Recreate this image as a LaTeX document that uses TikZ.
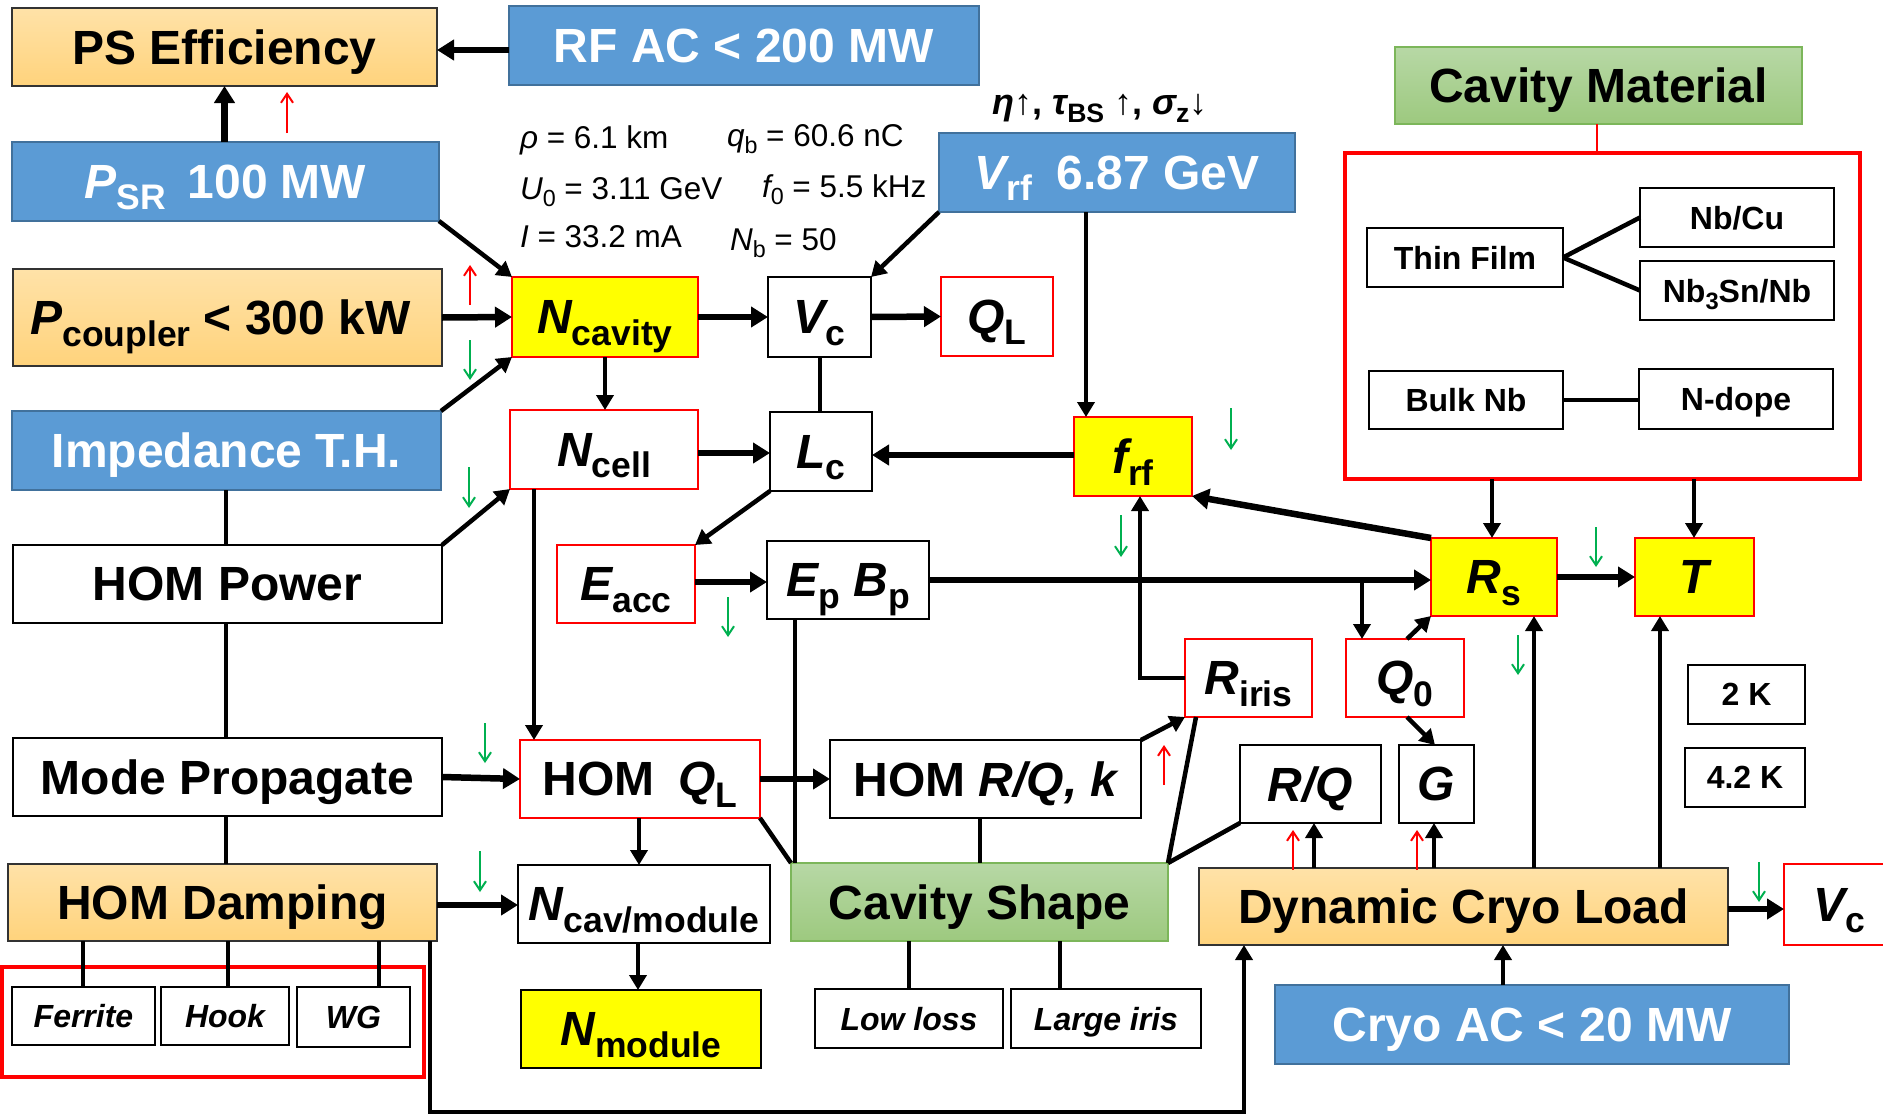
\documentclass[tikz,border=0pt]{standalone}
\usepackage{fontspec}
\usepackage{graphicx}
\setmainfont{Liberation Sans}
\usetikzlibrary{arrows.meta}
\definecolor{bluef}{HTML}{5B9BD5}
\definecolor{blued}{HTML}{41719C}
\definecolor{orT}{HTML}{FFE2A8}
\definecolor{orB}{HTML}{FFD37C}
\definecolor{grT}{HTML}{B7D8A5}
\definecolor{grB}{HTML}{9DC97F}
\definecolor{greend}{HTML}{7CB65A}
\definecolor{yellowc}{HTML}{FFFF00}
\definecolor{redc}{HTML}{FF0000}
\definecolor{greenc}{HTML}{00B050}
\newcommand\mysub[1]{\raisebox{-0.24em}{\scalebox{0.74}{\upshape #1}}}
\begin{document}
\begin{tikzpicture}[x=1pt,y=-1pt,
  every node/.style={inner sep=0pt,outer sep=0pt,align=center,text depth=0pt,font=\bfseries\fontsize{48}{52}\selectfont},
  sz/.style 2 args={minimum width=#1pt,minimum height=#2pt},
  wbox/.style={draw=black,line width=2.5pt,fill=white},
  rbox/.style={draw=redc,line width=2.5pt,fill=white},
  ybox/.style={draw=redc,line width=2.5pt,fill=yellowc},
  bbox/.style={draw=blued,line width=2pt,fill=bluef,text=white},
  obox/.style={draw=black!80,line width=1.5pt,top color=orT,bottom color=orB},
  gbox/.style={draw=greend,line width=1.5pt,top color=grT,bottom color=grB},
  small/.style={font=\bfseries\fontsize{32}{36}\selectfont},
  param/.style={font=\mdseries\fontsize{31.5}{35}\selectfont,anchor=base west},
  conn/.style={line width=4.5pt},
  arr/.style={line width=4.5pt,-{Triangle[length=15pt,width=17pt]}},
  harr/.style={line width=6.5pt,-{Triangle[length=17pt,width=20pt]}},
  garr/.style={draw=greenc,line width=2pt,-{Straight Barb[length=9pt,width=12pt]}},
  rarr/.style={draw=redc,line width=2pt,-{Straight Barb[length=9pt,width=12pt]}},
]
\useasboundingbox (0,0) rectangle (1883,1114);
\fill[white] (0,0) rectangle (1883,1114);

% ---- left column
\node[obox,sz={425}{78}] (pseff) at (224.5,47) {PS Efficiency};
\node[bbox,sz={470}{79}] (rfac) at (744,45.5) {RF AC < 200 MW};
\node[bbox,sz={427}{79}] (psr) at (225.5,181.5) {{\itshape P}\mysub{SR}\hspace{0.45em}100 MW};
\node[obox,sz={429}{97}] (pcoup) at (227.5,317.5) {\hspace*{-14pt}{\itshape P}\mysub{coupler} < 300 kW};
\node[bbox,sz={429}{79}] (imped) at (226.5,450.5) {Impedance T.H.};
\node[wbox,sz={429}{78}] (hompow) at (227.5,584) {HOM Power};
\node[wbox,sz={429}{78}] (modeprop) at (227.5,777) {Mode Propagate};
\node[obox,sz={429}{77}] (homdamp) at (222.5,902.5) {HOM Damping};
\node[draw=redc,line width=4pt,sz={422}{110}] (dampbox) at (213,1022) {};
\node[wbox,small,sz={143}{58}] (ferrite) at (83.5,1016) {\itshape Ferrite};
\node[wbox,small,sz={128}{58}] (hook) at (225,1016) {\itshape Hook};
\node[wbox,small,sz={113}{60}] (wg) at (353.5,1017) {\itshape WG};

% ---- middle
\node[ybox,sz={186}{80}] (ncav) at (605,317) {{\itshape N}\mysub{cavity}};
\node[wbox,sz={103}{80}] (vc) at (819.5,317) {{\itshape V}\mysub{c}};
\node[rbox,sz={112}{79}] (ql) at (997,316.5) {{\itshape Q}\mysub{L}};
\node[rbox,sz={188}{79}] (ncell) at (604,449.5) {{\itshape N}\mysub{cell}};
\node[wbox,sz={102}{79}] (lc) at (821,451.5) {{\itshape L}\mysub{c}};
\node[rbox,sz={138}{78}] (eacc) at (626,584) {{\itshape E}\mysub{acc}};
\node[wbox,sz={162}{78}] (epbp) at (848,580) {{\itshape E}\mysub{p} {\itshape B}\mysub{p}};
\node[rbox,sz={240}{78}] (homql) at (640,779) {HOM\hspace{0.5em}{\itshape Q}\mysub{L}};
\node[wbox,sz={311}{78}] (homrq) at (985.5,779) {HOM {\itshape R/Q, k}};
\node[wbox,sz={252}{78}] (ncavmod) at (644,904) {{\itshape N}\mysub{cav/module}};
\node[draw=black,line width=2.5pt,fill=yellowc,sz={240}{78}] (nmod) at (641,1029) {{\itshape N}\mysub{module}};
\node[gbox,sz={377}{78}] (cavshape) at (979.5,902) {Cavity Shape};
\node[wbox,small,sz={188}{59}] (lowloss) at (909,1018.5) {\itshape Low loss};
\node[wbox,small,sz={190}{59}] (largeiris) at (1106,1018.5) {\itshape Large iris};

% ---- parameters
\node[param] (p1) at (520,148) {{\itshape ρ} = 6.1 km};
\node[param] (p2) at (727,146) {{\itshape q}\mysub{b} = 60.6 nC};
\node[param] (p3) at (520,199) {{\itshape U}\mysub{0} = 3.11 GeV};
\node[param] (p4) at (762,197) {{\itshape f}\mysub{0} = 5.5 kHz};
\node[param] (p5) at (520,247) {{\itshape I} = 33.2 mA};
\node[param] (p6) at (730,250) {{\itshape N}\mysub{b} = 50};
\node[font=\bfseries\fontsize{36}{40}\selectfont,anchor=base] (beam) at (1100,114) {{\itshape η}↑, {\itshape τ}\mysub{BS} ↑, {\itshape σ}\mysub{z}↓};

% ---- right
\node[bbox,sz={356}{79}] (vrf) at (1117,172.5) {{\itshape V}\mysub{rf}\hspace{0.5em}6.87 GeV};
\node[ybox,sz={118}{79}] (frf) at (1133,456.5) {{\itshape f}\mysub{rf}};
\node[rbox,sz={127}{78}] (riris) at (1248.5,678) {{\itshape R}\mysub{iris}};
\node[rbox,sz={118}{78}] (q0) at (1405,678) {{\itshape Q}\mysub{0}};
\node[wbox,sz={141}{78}] (rq) at (1310.5,784) {\itshape R/Q};
\node[wbox,sz={75}{78}] (g) at (1436.5,784) {\itshape G};
\node[ybox,sz={126}{78}] (rs) at (1494,577) {{\itshape R}\mysub{s}};
\node[ybox,sz={119}{78}] (t) at (1694.5,577) {\itshape T};
\node[wbox,small,sz={117}{59}] (k2) at (1746.5,694.5) {2 K};
\node[wbox,small,sz={120}{59}] (k42) at (1745,777.5) {4.2 K};
\node[obox,sz={529}{77}] (dyn) at (1463.5,906.5) {Dynamic Cryo Load};
\node[rbox,sz={111}{81}] (vc2) at (1839.5,904.5) {{\itshape V}\mysub{c}};
\node[bbox,sz={514}{79}] (cryoac) at (1532,1024.5) {Cryo AC < 20 MW};
\node[gbox,sz={407}{77}] (cavmat) at (1598.5,85.5) {Cavity Material};
\node[draw=redc,line width=4pt,sz={515}{326}] (matbox) at (1602.5,316) {};
\node[wbox,small,sz={196}{59}] (thin) at (1465,257.5) {Thin Film};
\node[wbox,small,sz={194}{59}] (nbcu) at (1737,217.5) {Nb/Cu};
\node[wbox,small,sz={194}{59}] (nbsn) at (1737,290.5) {Nb\mysub{3}Sn/Nb};
\node[wbox,small,sz={194}{58}] (bulk) at (1466,400) {Bulk Nb};
\node[wbox,small,sz={194}{60}] (ndope) at (1736,399) {N-dope};

\coordinate (br) at (1362,580);

% ---- connectors
\draw[harr] (rfac.west |- 0,50) -- (pseff.east |- 0,50);
\draw[harr] (224.5,0 |- psr.north) -- (224.5,0 |- pseff.south);
\draw[arr] (psr.south east) -- (ncav.north west);
\draw[harr] (pcoup.east) -- (ncav.west);
\draw[arr] (imped.north east) -- (ncav.south west);
\draw[arr] (hompow.north east) -- (ncell.south west);
\draw[conn] (226,0 |- imped.south) -- (226,0 |- hompow.north);
\draw[conn] (226,0 |- hompow.south) -- (226,0 |- modeprop.north);
\draw[conn] (226,0 |- modeprop.south) -- (226,0 |- homdamp.north);
\draw[harr] (modeprop.east) -- (homql.west);
\draw[harr] (homdamp.east |- 0,905) -- (ncavmod.west |- 0,905);
\draw[conn] (83,0 |- homdamp.south) -- (83,0 |- ferrite.north);
\draw[conn] (228,0 |- homdamp.south) -- (228,0 |- hook.north);
\draw[conn] (379,0 |- homdamp.south) -- (379,0 |- wg.north);
\draw[arr] (430,0 |- homdamp.south) -- (430,1112) -- (1244,1112) -- (1244,0 |- dyn.south);
\draw[harr] (ncav.east) -- (vc.west);
\draw[harr] (vc.east) -- (ql.west);
\draw[arr] (vrf.south west) -- (vc.north east);
\draw[arr] (605,0 |- ncav.south) -- (605,0 |- ncell.north);
\draw[conn] (820,0 |- vc.south) -- (820,0 |- lc.north);
\draw[harr] (ncell.east |- 0,453) -- (lc.west |- 0,453);
\draw[harr] (frf.west |- 0,455) -- (lc.east |- 0,455);
\draw[arr] (lc.south west) -- (eacc.north east);
\draw[harr] (eacc.east |- 0,582) -- (epbp.west |- 0,582);
\draw[arr] (534,0 |- ncell.south) -- (534,0 |- homql.north);
\draw[conn] (795,0 |- epbp.south) -- (795,0 |- cavshape.north);
\draw[conn] (homql.south east) -- (cavshape.north west);
\draw[harr] (homql.east) -- (homrq.west);
\draw[arr] (639,0 |- homql.south) -- (639,0 |- ncavmod.north);
\draw[arr] (638,0 |- ncavmod.south) -- (638,0 |- nmod.north);
\draw[conn] (980,0 |- homrq.south) -- (980,0 |- cavshape.north);
\draw[arr] (homrq.north east) -- (riris.south west);
\draw[conn] (1196,0 |- riris.south) -- (cavshape.north east);
\draw[conn] (rq.south west) -- (cavshape.north east);
\draw[arr] (riris.west) -- (1140,0 |- riris.west) -- (1140,0 |- frf.south);
\draw[arr] (1086,0 |- vrf.south) -- (1086,0 |- frf.north);
\draw[harr] (rs.north west) -- (frf.south east);
\draw[harr] (epbp.east) -- (rs.west |- epbp.east);
\draw[arr] (br) -- (1362,0 |- q0.north);
\draw[arr] (1407,0 |- q0.north) -- (rs.south west);
\draw[arr] (1407,0 |- q0.south) -- (1435,0 |- g.north);
\draw[arr] (1314,0 |- dyn.north) -- (1314,0 |- rq.south);
\draw[arr] (1434,0 |- dyn.north) -- (1434,0 |- g.south);
\draw[arr] (1534,0 |- dyn.north) -- (1534,0 |- rs.south);
\draw[arr] (1660,0 |- dyn.north) -- (1660,0 |- t.south);
\draw[harr] (rs.east) -- (t.west);
\draw[harr] (dyn.east |- 0,909) -- (vc2.west |- 0,909);
\draw[arr] (1503,0 |- cryoac.north) -- (1503,0 |- dyn.south);
\draw[arr] (1492,0 |- matbox.south) -- (1492,0 |- rs.north);
\draw[arr] (1694,0 |- matbox.south) -- (1694,0 |- t.north);
\draw[redc,line width=2.5pt] (1597,0 |- cavmat.south) -- (1597,0 |- matbox.north);
\draw[conn] (thin.east) -- (nbcu.west);
\draw[conn] (thin.east) -- (nbsn.west);
\draw[conn] (bulk.east) -- (ndope.west |- bulk.east);
\draw[conn] (909,0 |- cavshape.south) -- (909,0 |- lowloss.north);
\draw[conn] (1060,0 |- cavshape.south) -- (1060,0 |- largeiris.north);

% ---- trend arrows
\draw[rarr] (287,133) -- (287,92);
\draw[rarr] (470,305) -- (470,265);
\draw[rarr] (1164,785) -- (1164,745);
\draw[rarr] (1293,870) -- (1293,830);
\draw[rarr] (1417,870) -- (1417,830);
\draw[garr] (470,340) -- (470,380);
\draw[garr] (469,467) -- (469,508);
\draw[garr] (728,597) -- (728,637);
\draw[garr] (485,723) -- (485,763);
\draw[garr] (480,851) -- (480,892);
\draw[garr] (1231,408) -- (1231,450);
\draw[garr] (1121,515) -- (1121,557);
\draw[garr] (1596,527) -- (1596,567);
\draw[garr] (1518,635) -- (1518,675);
\draw[garr] (1759,862) -- (1759,902);
\end{tikzpicture}
\end{document}
